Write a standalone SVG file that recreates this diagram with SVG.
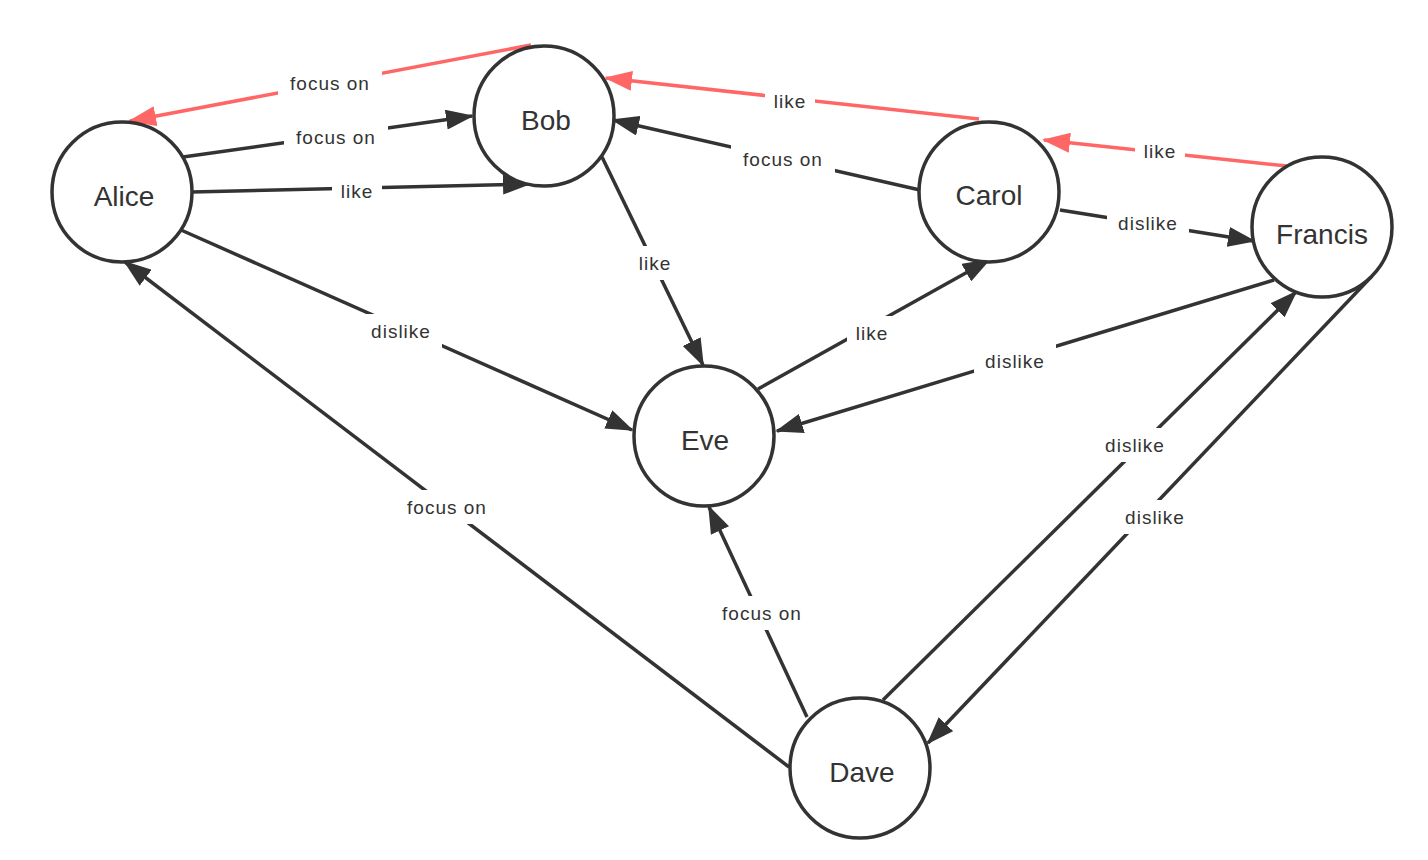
<svg xmlns="http://www.w3.org/2000/svg" width="1428" height="860" viewBox="0 0 1428 860">
<defs>
<style>
.node circle{fill:#fff;stroke:#333;stroke-width:3.5}
.node text{font-family:"Liberation Sans",Arial,sans-serif;font-size:28px;fill:#333;text-anchor:middle}
.e{fill:none;stroke:#333;stroke-width:3.5}
.e.r{stroke:#ff6666}
.lbl rect{fill:#fff}
.lbl text{font-family:"Liberation Sans",Arial,sans-serif;font-size:19px;letter-spacing:1px;fill:#333;text-anchor:middle;dominant-baseline:central}
</style>
<marker id="ab" markerUnits="userSpaceOnUse" markerWidth="28" markerHeight="20" viewBox="0 0 28 20" refX="26" refY="10" orient="auto"><path d="M0,0 L28,10 L0,20 Z" fill="#333"/></marker>
<marker id="ar" markerUnits="userSpaceOnUse" markerWidth="28" markerHeight="20" viewBox="0 0 28 20" refX="26" refY="10" orient="auto"><path d="M0,0 L28,10 L0,20 Z" fill="#ff6666"/></marker>
</defs>
<rect width="1428" height="860" fill="#fff"/>
<g id="edges">
<line class="e r" x1="531" y1="45" x2="130" y2="121" marker-end="url(#ar)"/>
<line class="e r" x1="979" y1="119" x2="606" y2="78" marker-end="url(#ar)"/>
<line class="e r" x1="1287" y1="166" x2="1044" y2="140" marker-end="url(#ar)"/>
<line class="e" x1="183" y1="157" x2="472" y2="116" marker-end="url(#ab)"/>
<line class="e" x1="192" y1="192" x2="529" y2="184" marker-end="url(#ab)"/>
<line class="e" x1="181" y1="230" x2="632" y2="430" marker-end="url(#ab)"/>
<line class="e" x1="602" y1="157" x2="703" y2="365" marker-end="url(#ab)"/>
<line class="e" x1="920" y1="190" x2="613" y2="120" marker-end="url(#ab)"/>
<line class="e" x1="1060" y1="210" x2="1254" y2="241" marker-end="url(#ab)"/>
<line class="e" x1="758" y1="389" x2="989" y2="260" marker-end="url(#ab)"/>
<line class="e" x1="1274" y1="280" x2="777" y2="431" marker-end="url(#ab)"/>
<line class="e" x1="807" y1="717" x2="709" y2="507" marker-end="url(#ab)"/>
<line class="e" x1="789" y1="767" x2="125" y2="262" marker-end="url(#ab)"/>
<line class="e" x1="883" y1="700" x2="1296" y2="292" marker-end="url(#ab)"/>
<line class="e" x1="1372" y1="276" x2="928" y2="743" marker-end="url(#ab)"/>
<g class="lbl">
<rect x="278" y="66" width="104" height="34"/><text x="330" y="83">focus on</text>
<rect x="284" y="120" width="104" height="34"/><text x="336" y="137">focus on</text>
<rect x="332" y="174" width="50" height="34"/><text x="357" y="191">like</text>
<rect x="360" y="314" width="82" height="34"/><text x="401" y="331">dislike</text>
<rect x="630" y="246" width="50" height="34"/><text x="655" y="263">like</text>
<rect x="765" y="84" width="50" height="34"/><text x="790" y="101">like</text>
<rect x="731" y="142" width="104" height="34"/><text x="783" y="159">focus on</text>
<rect x="1135" y="134" width="50" height="34"/><text x="1160" y="151">like</text>
<rect x="1107" y="206" width="82" height="34"/><text x="1148" y="223">dislike</text>
<rect x="847" y="316" width="50" height="34"/><text x="872" y="333">like</text>
<rect x="974" y="344" width="82" height="34"/><text x="1015" y="361">dislike</text>
<rect x="395" y="490" width="104" height="34"/><text x="447" y="507">focus on</text>
<rect x="710" y="596" width="104" height="34"/><text x="762" y="613">focus on</text>
<rect x="1094" y="428" width="82" height="34"/><text x="1135" y="445">dislike</text>
<rect x="1114" y="500" width="82" height="34"/><text x="1155" y="517">dislike</text>
</g>
</g>
<g id="node-alice" class="node"><circle cx="122" cy="192" r="70"/><text x="124" y="206">Alice</text></g>
<g id="node-bob" class="node"><circle cx="544" cy="116" r="70"/><text x="546" y="130">Bob</text></g>
<g id="node-carol" class="node"><circle cx="989" cy="192" r="70"/><text x="989" y="205">Carol</text></g>
<g id="node-francis" class="node"><circle cx="1322" cy="227" r="70"/><text x="1322" y="244">Francis</text></g>
<g id="node-eve" class="node"><circle cx="704" cy="436" r="70"/><text x="705" y="450">Eve</text></g>
<g id="node-dave" class="node"><circle cx="860" cy="768" r="70"/><text x="862" y="782">Dave</text></g>
</svg>
